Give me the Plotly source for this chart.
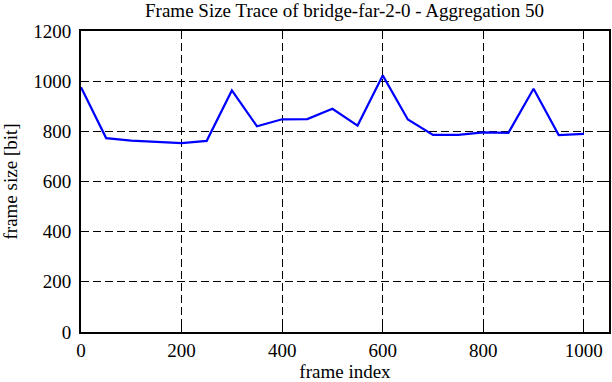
import plotly.graph_objects as go

frame_index = [0, 50, 100, 150, 200, 250, 300, 350, 400, 450, 500,
               550, 600, 650, 700, 750, 800, 850, 900, 950, 1000]
frame_size = [976, 773, 763, 757, 753, 762, 963, 820, 848, 849, 890,
              823, 1023, 847, 786, 786, 796, 794, 970, 785, 790]

x_ticks = [0, 200, 400, 600, 800, 1000]
y_ticks = [0, 200, 400, 600, 800, 1000, 1200]

font_family = "Liberation Serif"
fs = 19

fig = go.Figure()
fig.add_trace(go.Scatter(
    x=frame_index, y=frame_size, mode="lines",
    line=dict(color="#0000ff", width=2.2), showlegend=False,
))

axis_common = dict(
    showline=True, linecolor="black", linewidth=2, mirror="ticks",
    ticks="inside", ticklen=6, tickwidth=1, tickcolor="black",
    showgrid=True, gridcolor="black", griddash="8px,4px", gridwidth=1,
    zeroline=False, automargin=False,
    tickfont=dict(family=font_family, size=fs, color="black"),
)

fig.update_xaxes(range=[0, 1050], tickvals=x_ticks,
                 title=dict(text="frame index", font=dict(family=font_family, size=fs, color="black"), standoff=4),
                 **axis_common)
fig.update_yaxes(range=[0, 1200], tickvals=y_ticks, ticklabelstandoff=4,
                 title=dict(text="frame size [bit]", font=dict(family=font_family, size=fs, color="black"), standoff=13),
                 **axis_common)

fig.update_layout(
    width=612, height=382,
    margin=dict(l=81, r=3, t=31, b=50, autoexpand=False),
    paper_bgcolor="white", plot_bgcolor="white",
    title=dict(text="Frame Size Trace of bridge-far-2-0 - Aggregation 50",
               font=dict(family=font_family, size=fs, color="black"),
               x=0.563, xanchor="center", y=0.972, yanchor="middle"),
    font=dict(family=font_family, color="black"),
)

fig.write_html("out.html", config={"displayModeBar": False},
               post_script="document.body.style.margin='0';document.body.style.padding='0';")
